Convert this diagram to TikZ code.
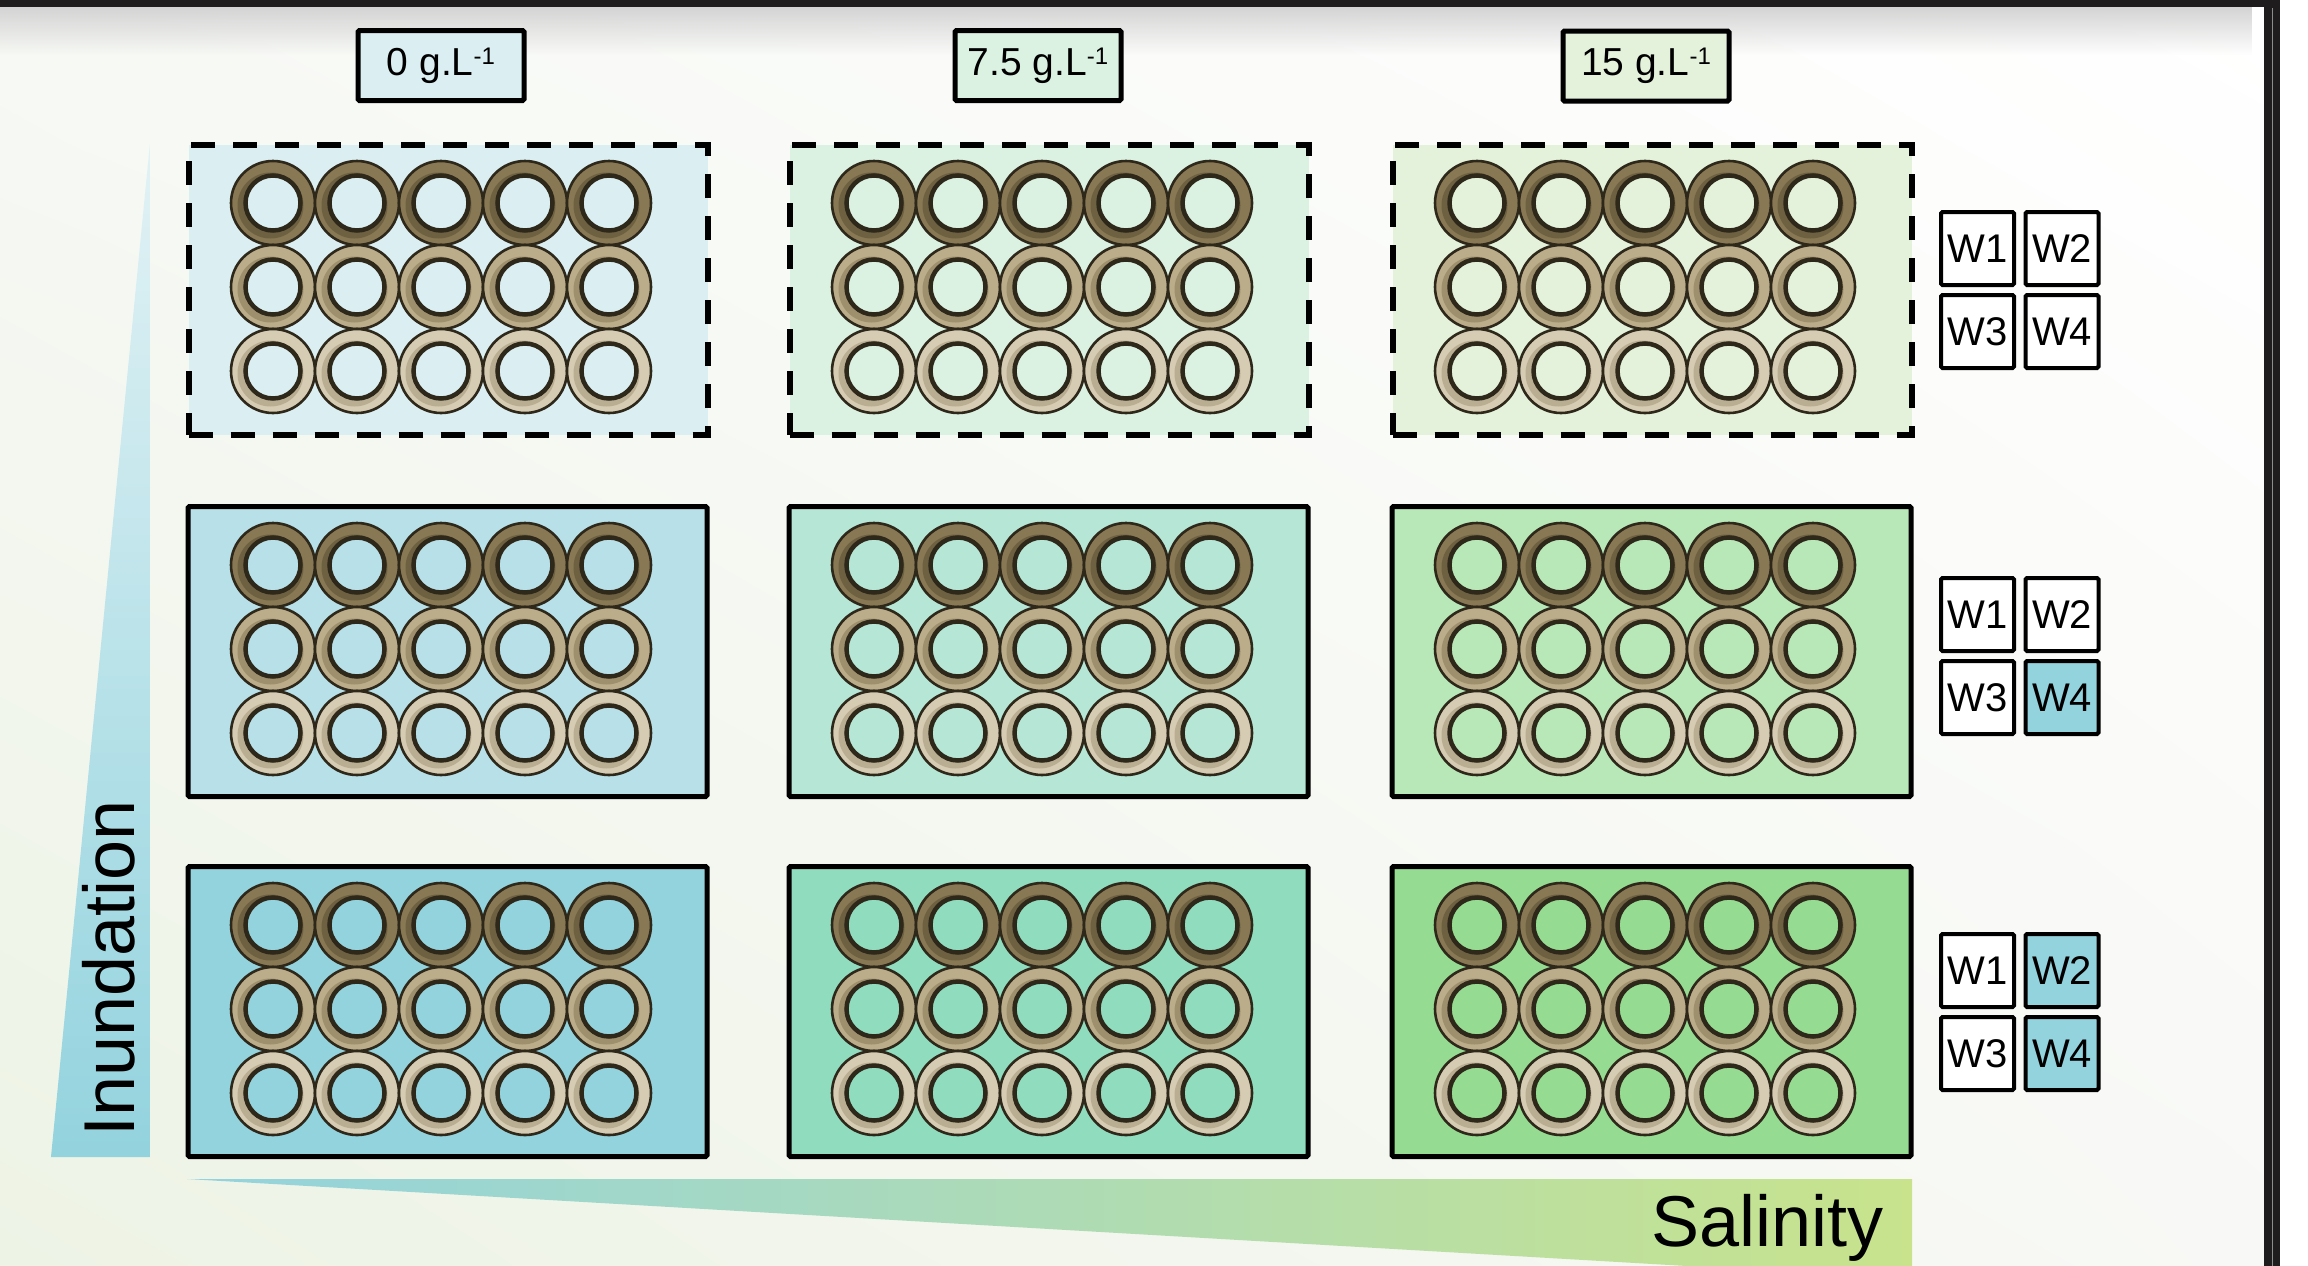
\documentclass[tikz,border=0pt]{standalone}
\usepackage{fontspec}
\setmainfont{Liberation Sans}
\usetikzlibrary{shadings,fadings}
\definecolor{pl11}{HTML}{DBEFF3}
\definecolor{pl12}{HTML}{DBF2E3}
\definecolor{pl13}{HTML}{E4F2DC}
\definecolor{pl21}{HTML}{B7E0E8}
\definecolor{pl22}{HTML}{B5E6D6}
\definecolor{pl23}{HTML}{B8E8B8}
\definecolor{pl31}{HTML}{93D3DE}
\definecolor{pl32}{HTML}{8FDCBF}
\definecolor{pl33}{HTML}{95DC92}
\definecolor{ring0}{HTML}{887854}
\definecolor{ring1}{HTML}{BBAC8A}
\definecolor{ring2}{HTML}{D6CBB3}
\definecolor{shad0}{HTML}{6E6141}
\definecolor{shad1}{HTML}{9E8F6D}
\definecolor{shad2}{HTML}{BAAE92}
\definecolor{wellline}{HTML}{2E281B}
\definecolor{inund}{HTML}{93D3DE}
\definecolor{inundtop}{HTML}{E2F2F5}
\definecolor{salright}{HTML}{C8E38C}
\definecolor{bgTL}{HTML}{F7F9F5}
\definecolor{bgBL}{HTML}{EDF3E5}
\definecolor{bgBR}{HTML}{F8F9F6}
\definecolor{framec}{HTML}{1E1C1C}
\tikzfading[name=fadedown, top color=transparent!0, bottom color=transparent!100]
\newcommand\drawwell[5]{%
  \fill[#3] (#1,#2) circle[radius=42];
  \fill[#4] ({#1-2.5},{#2+2.5}) circle[radius=33];
  \draw[wellline, line width=4.5pt, fill=#5] (#1,#2) circle[radius=27.5];
  \draw[wellline, line width=2.6pt] (#1,#2) circle[radius=42];
}
\newcommand\supone{\raisebox{11pt}{\fontsize{24}{24}\selectfont -1}}
\begin{document}
\begin{tikzpicture}[x=1pt,y=-1pt,
  platebox/.style={draw=black, line width=5pt, rounded corners=1.5pt, inner sep=0pt,
    minimum width=519pt, minimum height=290pt, anchor=north west},
  rowstyle1/.style={line width=6pt, dash pattern=on 24pt off 18pt, rounded corners=0pt},
  rowstyle2/.style={},
  rowstyle3/.style={},
  headbox/.style={draw=black, line width=5pt, rounded corners=1.5pt, inner sep=0pt,
    minimum width=166pt, minimum height=70pt, font=\fontsize{39}{44}\selectfont},
  wbox/.style={draw=black, line width=4pt, rounded corners=1.5pt, inner sep=0pt,
    minimum width=73pt, minimum height=73pt, font=\fontsize{40}{44}\selectfont},
  bigtext/.style={inner sep=0pt, font=\fontsize{72}{80}\selectfont}
]
\useasboundingbox (0,0) rectangle (2308,1266);
% background
\shade[upper left=bgTL, lower left=bgBL, upper right=white, lower right=bgBR]
  (0,0) rectangle (2264,1266);
\fill[white] (2280,0) rectangle (2308,1266);
\fill[black!17, path fading=fadedown] (0,7) rectangle (2264,55);
% frame
\fill[framec] (0,0) rectangle (2280,7);
\fill[framec] (2264,0) rectangle (2280,1266);
\draw[black!45, line width=1pt] (2272,8) -- (2272,1266);
% wedges
\shade[top color=inundtop, bottom color=inund] (150,143) -- (150,1157) -- (51,1157) -- cycle;
\shade[left color=inund, right color=salright] (187,1179) -- (1912,1179) -- (1912,1266) -- (1687,1266) -- cycle;
\node[bigtext, rotate=90, anchor=base west] (inundation) at (134,1137) {Inundation};
\node[bigtext, anchor=base east] (salinity) at (1884,1246) {Salinity};
% header boxes
\node[headbox, fill=pl11] (h0) at (441,65.5) {0 g.L\supone};
\node[headbox, fill=pl12] (h75) at (1038,65.5) {7.5 g.L\supone};
\node[headbox, fill=pl13] (h15) at (1646,66) {15 g.L\supone};
% plates and wells
\foreach \r/\py in {1/140,2/502,3/862}{
  \foreach \c/\px in {1/185,2/786,3/1389}{
    \node[platebox, rowstyle\r, fill=pl\r\c] (plate\r\c) at (\px+0.5,\py+2) {};
    \foreach \j in {0,1,2}{
      \foreach \i in {0,...,4}{
        \drawwell{\px+88+84*\i}{\py+63+84*\j}{ring\j}{shad\j}{pl\r\c}
      }
    }
  }
}
% W boxes
\foreach \g/\t/\ca/\cb in {1/210/white/white, 2/576/white/inund, 3/932/inund/inund}{
  \node[wbox, fill=white] (w\g a) at (1977.5,\t+38.5) {W1};
  \node[wbox, fill=\ca] (w\g b) at (2062,\t+38.5) {W2};
  \node[wbox, fill=white] (w\g c) at (1977.5,\t+121.5) {W3};
  \node[wbox, fill=\cb] (w\g d) at (2062,\t+121.5) {W4};
}
\end{tikzpicture}
\end{document}
